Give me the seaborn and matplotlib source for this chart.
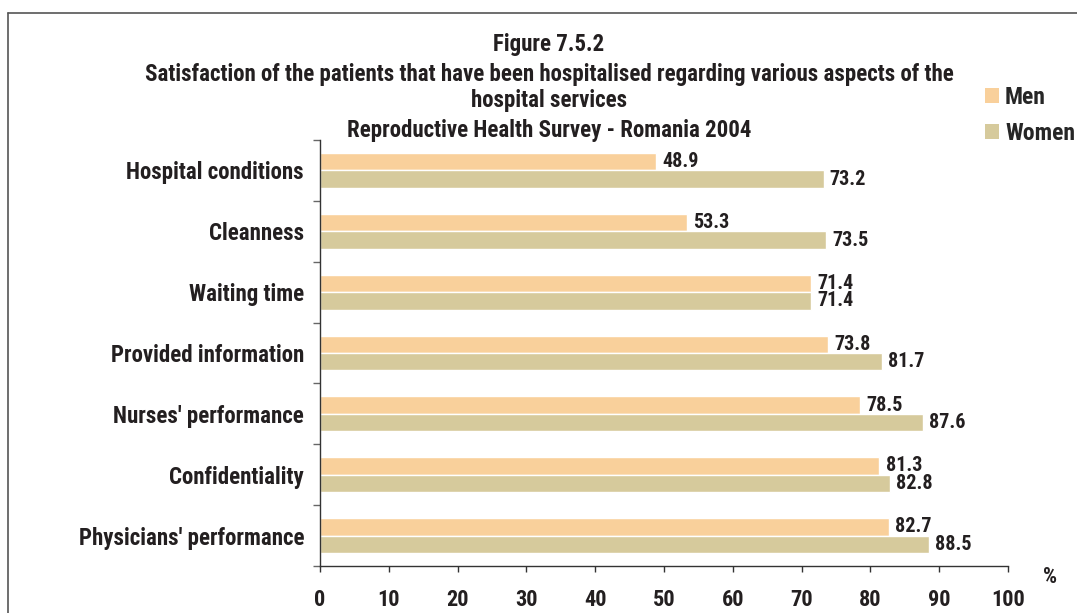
import matplotlib
matplotlib.use("Agg")
import matplotlib.pyplot as plt
import seaborn as sns
import pandas as pd
import numpy as np
from matplotlib.lines import Line2D

categories = ["Hospital conditions", "Cleanness", "Waiting time", "Provided information",
              "Nurses' performance", "Confidentiality", "Physicians' performance"]
men = [48.9, 53.3, 71.4, 73.8, 78.5, 81.3, 82.7]
women = [73.2, 73.5, 71.4, 81.7, 87.6, 82.8, 88.5]
series = ["Men", "Women"]
colors = ["#F9D09B", "#D6CA9C"]
xticks = [0, 10, 20, 30, 40, 50, 60, 70, 80, 90, 100]

df = pd.DataFrame({
    "category": categories * 2,
    "value": men + women,
    "sex": ["Men"] * len(men) + ["Women"] * len(women),
})

sns.set_theme(style="white")
plt.rcParams['font.family'] = ['Roboto Condensed', 'DejaVu Sans']
plt.rcParams['font.weight'] = 'bold'
TXT = "#231F20"

fig = plt.figure(figsize=(10.77, 6.13), dpi=100)
W, H = 1077, 613
ax = fig.add_axes([320 / W, 1 - 566 / H, (1008 - 320) / W, (566 - 140) / H])

sns.barplot(data=df, y="category", x="value", hue="sex", order=categories,
            hue_order=series, palette=colors, width=0.575, orient="h",
            saturation=1, ax=ax, legend=False)

for cont in ax.containers:
    ax.bar_label(cont, fmt="%.1f", padding=4.5, fontsize=14.5, fontweight='bold', color=TXT)

ax.set_xlim(0, 100)
ax.set_ylim(len(categories) - 0.5, -0.5)
ax.set_xticks(xticks)
ax.set_xticklabels([str(t) for t in xticks], fontsize=16, fontweight='bold', color=TXT)
ax.set_yticks(range(len(categories)))
ax.set_yticklabels(categories, fontsize=16.5, fontweight='bold', color=TXT)
ax.set_yticks(np.arange(-0.5, len(categories), 1), minor=True)
ax.tick_params(axis='y', which='major', length=0, pad=11.5)
ax.tick_params(axis='y', which='minor', length=5, direction='out', color='#666666', width=1, left=True)
ax.tick_params(axis='x', which='major', length=4.5, direction='out', color='#333333', width=1, pad=12, bottom=True)
ax.set_xlabel("")
ax.set_ylabel("")
for s in ["top", "right"]:
    ax.spines[s].set_visible(False)
for s in ["left", "bottom"]:
    ax.spines[s].set_color("#333333")
    ax.spines[s].set_linewidth(1)

fig.text(1050 / W, 1 - 577 / H, "%", ha="center", va="center", fontsize=16, fontweight='bold', color=TXT)

cx = 549 / W
fs_t = 16.5
fig.text(cx, 1 - 45 / H, "Figure 7.5.2", ha="center", va="center", fontsize=fs_t, fontweight='bold', color=TXT)
fig.text(cx, 1 - 74 / H, "Satisfaction of the patients that have been hospitalised regarding various aspects of the",
         ha="center", va="center", fontsize=fs_t, fontweight='bold', color=TXT)
fig.text(cx, 1 - 101 / H, "hospital services", ha="center", va="center", fontsize=fs_t, fontweight='bold', color=TXT)
fig.text(cx, 1 - 131 / H, "Reproductive Health Survey - Romania 2004", ha="center", va="center",
         fontsize=fs_t, fontweight='bold', color=TXT)

handles = [plt.Rectangle((0, 0), 1, 1, facecolor=c, edgecolor='none') for c in colors]
fig.legend(handles, series, loc="upper left", bbox_to_anchor=(985 / W, 1 - 86 / H), frameon=False,
           prop={'weight': 'bold', 'size': 17}, handlelength=0.6, handleheight=0.6,
           handletextpad=0.25, labelspacing=0.55, borderpad=0, borderaxespad=0)

fig.add_artist(Line2D([8 / W, 8 / W], [0, 1 - 13 / H], transform=fig.transFigure, color="#555555", lw=1.2))
fig.add_artist(Line2D([8 / W, 1], [1 - 13 / H, 1 - 13 / H], transform=fig.transFigure, color="#555555", lw=1.2))

fig.savefig("out.png", dpi=100)
